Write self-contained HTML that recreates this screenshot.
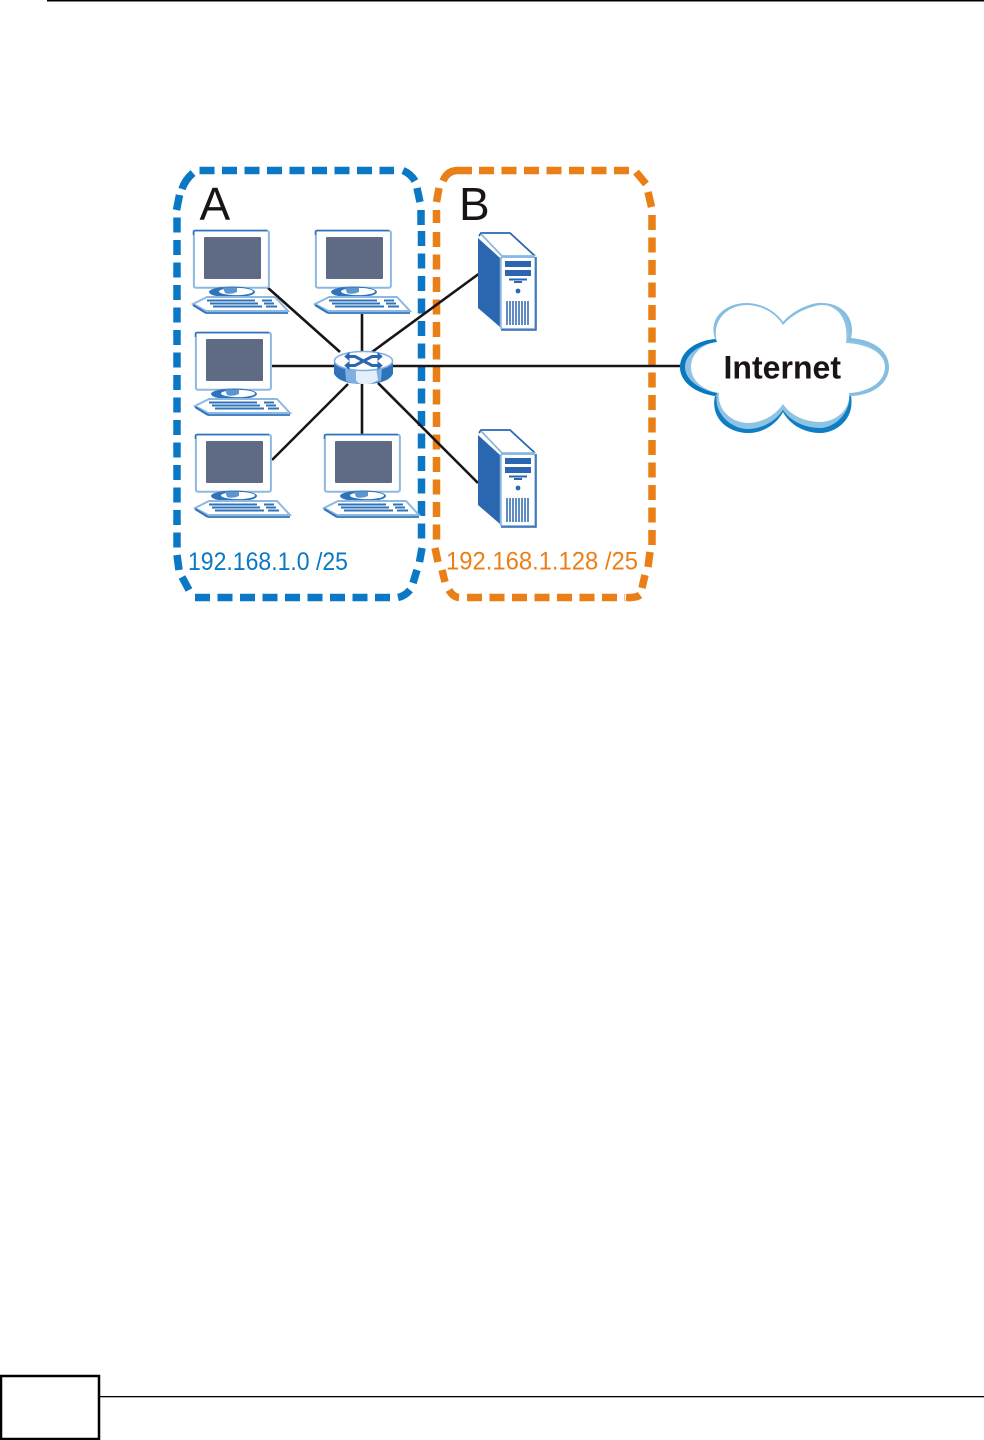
<!DOCTYPE html>
<html>
<head>
<meta charset="utf-8">
<style>
html,body{margin:0;padding:0;background:#fff;width:984px;height:1440px;overflow:hidden}
svg{display:block}
text{font-family:"Liberation Sans",sans-serif}
</style>
</head>
<body>
<svg width="984" height="1440" viewBox="0 0 984 1440" xmlns="http://www.w3.org/2000/svg">
<defs>
<g id="pc">
  <rect x="0.9" y="0.7" width="75" height="57" rx="2" fill="#fff" stroke="#8db8e2" stroke-width="2"/>
  <path d="M0.4 5V2Q0.4 .4 2 .4H74" fill="none" stroke="#2f73bb" stroke-width="1.400"/>
  <rect x="11" y="7" width="57" height="42" rx="1" fill="#5f6b85"/>
  <ellipse cx="39" cy="62" rx="23" ry="5.500" fill="#2f73bb"/>
  <ellipse cx="43" cy="61.500" rx="17" ry="3.600" fill="#fff"/>
  <path d="M30 57.500H44V62Q37 65 32 63Z" fill="#5c95d0"/>
  <path d="M0 74L14 67H82L95 81H13Z" fill="#fff" stroke="#8db8e2" stroke-width="2"/>
  <path d="M13 83H95" stroke="#2f73bb" stroke-width="1.800"/>
  <path d="M0 75L13 83" stroke="#2f73bb" stroke-width="2"/>
  <path d="M14 70.500H62M17 73.500H65M20 76.500H69M69 70.500H79M71 73.500H81M73 76.500H84" stroke="#2f73bb" stroke-width="2"/>
</g>
<g id="srv">
  <path d="M480 233H510L535 256V329H500L478 309V238Z" fill="#fff"/>
  <path d="M478 238L500 258V327L478 308Z" fill="#2b67b0"/>
  <path d="M479 236L481 233H510L535 256" fill="none" stroke="#2b67b0" stroke-width="1.800"/>
  <path d="M481 234L502 256H535" fill="none" stroke="#8db8e2" stroke-width="1.800"/>
  <rect x="500.800" y="257" width="34.500" height="72" rx="2" fill="#fff" stroke="#8db8e2" stroke-width="2"/>
  <path d="M501 330H536V257" fill="none" stroke="#2b67b0" stroke-width="1.500"/>
  <rect x="505" y="261" width="26" height="6" fill="#2b67b0"/>
  <rect x="505" y="270" width="26" height="6" fill="#2b67b0"/>
  <path d="M509 279.500H527M514 282H522" stroke="#2b67b0" stroke-width="2"/>
  <circle cx="518" cy="291" r="2.400" fill="#2b67b0"/>
  <path d="M507 301V325M510 301V325M513 301V325M516 301V325M519 301V325M522 301V325M525 301V325M528 301V325" stroke="#2b67b0" stroke-width="1.500"/>
</g>
</defs>

<rect width="984" height="1440" fill="#fff"/>
<rect x="47" y="0" width="937" height="1.500" fill="#000"/>

<!-- blue group -->
<g stroke="#0a78c4" stroke-width="7.500" fill="none">
  <path d="M199.500 170.500H394" stroke-dasharray="15 7.500"/>
  <path d="M421.500 231V540" stroke-dasharray="15 7.500"/>
  <path d="M177 217.500V548" stroke-dasharray="15 7.500"/>
  <path d="M195 597.500H390" stroke-dasharray="15 7.500"/>
  <path d="M176.500 210L179.500 195M182 189Q185 180 193 173M403 170.500Q411 174 415 181M417 188L420 202M421 210V225M177 555L179 570M182 577L189 590M422 548L419.500 562M417 570L413 583M410 590Q405 596 398 597.500"/>
</g>

<!-- orange group -->
<g stroke="#ea7f17" stroke-width="7.500" fill="none">
  <path d="M479 170.500H630" stroke-dasharray="15 7.500"/>
  <path d="M436.500 232V540" stroke-dasharray="15 7.500"/>
  <path d="M652 215V545" stroke-dasharray="15 7.500"/>
  <path d="M467 597.500H625" stroke-dasharray="15 7.500"/>
  <path d="M436.500 210V223M436.500 202L439 188M443 181Q447 171 457 170.500H472M636 172L646 184M648 192L651.500 207M435 548L438 562M442 570L445 582M449 590Q453 597 459 597.500M626 597.500Q636 598 640 595M645 575L642 588M650 552L648 567"/>
</g>

<!-- connectors -->
<g stroke="#1a1416" stroke-width="2.600" fill="none">
  <path d="M267 287L340 352"/>
  <path d="M362 314V352"/>
  <path d="M372 352L480 273"/>
  <path d="M272 366H682"/>
  <path d="M272 460L348 384"/>
  <path d="M362 384V434"/>
  <path d="M378 383L478 483"/>
</g>

<!-- computers -->
<use href="#pc" x="193" y="230"/>
<use href="#pc" x="315" y="230"/>
<use href="#pc" x="195" y="332"/>
<use href="#pc" x="195" y="434"/>
<use href="#pc" x="324" y="434"/>

<!-- servers -->
<use href="#srv"/>
<use href="#srv" y="197"/>

<!-- router -->
<path d="M334 361V374Q340 384 363 384Q388 384 393 374V361Z" fill="#2f73bb"/>
<path d="M345 368H382L381 381Q372 384 363 384Q352 384 346 381Z" fill="#7fb0e0"/>
<path d="M356 368H376L378 380Q370 385 363 384Q358 384 356 380Z" fill="#e6eff9"/>
<ellipse cx="363.500" cy="361" rx="29" ry="9.500" fill="#fff" stroke="#7fb0e0" stroke-width="1.600"/>
<path d="M349 356.500H355L372 365.500H378M349 365.500H355L372 356.500H378" fill="none" stroke="#2b67b0" stroke-width="3"/>
<path d="M349 353V360L345 356.500ZM349 362V369L345 365.500ZM378 353V360L382 356.500ZM378 362V369L382 365.500Z" fill="#2b67b0" stroke="#2b67b0"/>

<!-- cloud -->
<path d="M783 322C795 308 815 302 822 303C842 303 856 318 851 338C875 340 889 352 889 367C889 382 875 395 851 396C855 420 835 433 820 433C805 433 790 425 783 412C776 425 762 433 748 433C730 433 710 420 715 396C695 393 680 382 680 367C680 352 695 341 715 339C708 318 725 303 747 303C760 303 775 310 783 322Z" fill="#86bde0"/>
<path d="M715 396C695 393 680 382 680 367C680 352 695 341 715 339L720 345L720 392Z" fill="#0a78c0"/>
<path d="M851 396C855 420 835 433 820 433C805 433 790 425 783 412C776 425 762 433 748 433C730 433 710 420 715 396L735 400H830Z" fill="#0f7dc4"/>
<path d="M783 325C795 311 815 305 822 305C840 305 853 320 849 341C870 342 885 353 885 367C885 381 870 392 849 393C852 412 835 428 820 428C805 428 790 421 783 410C776 421 762 429 748 429C730 429 713 412 717 393C700 390 685 380 685 367C685 354 700 344 717 342C711 320 728 305 747 305C760 305 775 312 783 325Z" fill="#8fc3e3"/>
<path d="M783 325C795 311 815 305 822 305C838 305 849 320 846 343C868 344 885 353 885 367C885 381 870 392 849 393C851 410 835 422 820 422C805 422 790 415 783 404C776 415 762 423 748 423C732 423 717 410 719 393C702 390 691 380 691 367C691 354 702 344 717 342C711 320 728 305 747 305C760 305 775 312 783 325Z" fill="#fff"/>

<!-- labels -->
<text x="723.500" y="378.500" font-size="32" font-weight="bold" fill="#1a1416" textLength="117.500" lengthAdjust="spacing">Internet</text>
<text x="199.500" y="220" font-size="46" fill="#1a1416">A</text>
<text x="459" y="220" font-size="46" fill="#1a1416">B</text>
<text x="188" y="570" font-size="25" fill="#0a78c4" textLength="160" lengthAdjust="spacingAndGlyphs">192.168.1.0 /25</text>
<text x="446" y="569.500" font-size="25" fill="#ea7f17" textLength="192" lengthAdjust="spacingAndGlyphs">192.168.1.128 /25</text>

<!-- footer -->
<rect x="1" y="1376" width="98" height="63" fill="#fff" stroke="#000" stroke-width="2.500"/>
<rect x="100" y="1396" width="884" height="1.300" fill="#000"/>
</svg>
</body>
</html>
